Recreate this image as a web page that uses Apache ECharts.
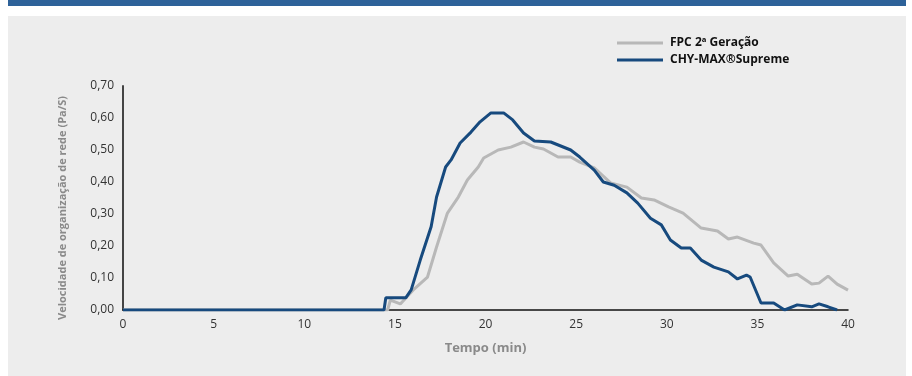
<!DOCTYPE html>
<html>
<head>
<meta charset="utf-8">
<script src="https://cdn.jsdelivr.net/npm/echarts@6/dist/echarts.min.js"></script>
<style>
  html, body { margin: 0; padding: 0; background: #fff; }
  #chart { width: 912px; height: 376px; }
</style>
</head>
<body>
<div id="chart"></div>
<script type="text/javascript">
// tempo (min) e velocidade (Pa/S)
var fpcTime  = [0, 14.6, 14.75, 15.3, 16.0, 16.8, 17.3, 17.9, 18.5, 19.0, 19.6, 19.9, 20.7, 21.4, 22.1, 22.7, 23.2, 24.0, 24.7, 25.2, 26.0, 26.9, 27.8, 28.6, 29.3, 30.1, 30.9, 31.9, 32.8, 33.4, 33.9, 34.8, 35.2, 35.9, 36.7, 37.2, 38.0, 38.4, 38.9, 39.4, 40.0];
var fpcValue = [0, 0, 0.031, 0.019, 0.062, 0.103, 0.197, 0.303, 0.353, 0.406, 0.447, 0.475, 0.500, 0.509, 0.525, 0.509, 0.503, 0.478, 0.478, 0.462, 0.444, 0.397, 0.384, 0.350, 0.344, 0.322, 0.303, 0.256, 0.247, 0.222, 0.228, 0.209, 0.203, 0.147, 0.106, 0.112, 0.081, 0.084, 0.106, 0.081, 0.062];

var chyTime  = [0, 14.4, 14.5, 15.6, 15.9, 16.4, 17.0, 17.3, 17.8, 18.1, 18.6, 19.2, 19.7, 20.3, 21.0, 21.5, 22.1, 22.7, 23.6, 24.7, 25.2, 26.0, 26.5, 27.1, 27.8, 28.4, 29.1, 29.7, 30.2, 30.8, 31.3, 31.9, 32.6, 33.4, 33.9, 34.4, 34.6, 35.2, 35.9, 36.5, 37.2, 38.0, 38.4, 38.9, 39.4];
var chyValue = [0, 0, 0.038, 0.038, 0.063, 0.156, 0.260, 0.353, 0.447, 0.469, 0.522, 0.556, 0.588, 0.616, 0.616, 0.594, 0.553, 0.528, 0.525, 0.500, 0.478, 0.437, 0.400, 0.390, 0.366, 0.334, 0.287, 0.266, 0.219, 0.194, 0.194, 0.156, 0.134, 0.119, 0.097, 0.109, 0.103, 0.022, 0.022, 0, 0.016, 0.010, 0.019, 0.010, 0];

var seriesNames = ['FPC 2ª Geração', 'CHY-MAX®Supreme'];

function pairs(t, v) {
	var out = [];
	for (var i = 0; i < t.length; i++) out.push([t[i], v[i]]);
	return out;
}

var myChart = echarts.init(document.getElementById('chart'));
var font = '"Open Sans", "Noto Sans", sans-serif';

var option = {
	animation: false,
	backgroundColor: '#fff',
	graphic: [
		{ type: 'rect', z: -10, shape: { x: 8, y: 0, width: 898, height: 6 }, style: { fill: '#2e6299' } },
		{ type: 'rect', z: -10, shape: { x: 8, y: 16, width: 898, height: 360 }, style: { fill: '#ededed' } }
	],
	legend: {
		orient: 'vertical',
		left: 612,
		top: 32,
		itemWidth: 46,
		itemHeight: 3,
		itemGap: 5,
		icon: 'rect',
		data: seriesNames,
		textStyle: { fontFamily: font, fontSize: 12, fontWeight: 'bold', color: '#111', padding: [0, 0, 0, 2] }
	},
	grid: { left: 123, right: 64, top: 86, height: 224 },
	xAxis: {
		type: 'value',
		min: 0,
		max: 40,
		interval: 5,
		offset: 2,
		name: 'Tempo (min)',
		nameLocation: 'middle',
		nameGap: 30,
		nameTextStyle: { fontFamily: font, fontSize: 13, fontWeight: 'bold', color: '#8a8a8a' },
		axisLine: { lineStyle: { color: '#111', width: 1.5 } },
		axisTick: { show: false },
		splitLine: { show: false },
		axisLabel: { margin: 7, fontFamily: font, fontSize: 12, color: '#333' }
	},
	yAxis: {
		type: 'value',
		min: 0,
		max: 0.7,
		interval: 0.1,
		name: 'Velocidade de organização de rede (Pa/S)',
		nameLocation: 'middle',
		nameGap: 55,
		nameTextStyle: { fontFamily: font, fontSize: 11, fontWeight: 'bold', color: '#8a8a8a', padding: [0, 20, 0, 0] },
		axisLine: { show: true, lineStyle: { color: '#444', width: 2 } },
		axisTick: { show: false },
		splitLine: { show: false },
		axisLabel: {
			margin: 9,
			fontFamily: font, fontSize: 12, color: '#333',
			formatter: function (v) { return v.toFixed(2).replace('.', ','); }
		}
	},
	series: [{
		name: seriesNames[0],
		type: 'line',
		data: pairs(fpcTime, fpcValue),
		showSymbol: false,
		color: '#b8b8b8',
		lineStyle: { width: 3, color: '#b8b8b8' },
		z: 2
	}, {
		name: seriesNames[1],
		type: 'line',
		data: pairs(chyTime, chyValue),
		showSymbol: false,
		color: '#174a7e',
		lineStyle: { width: 3, color: '#174a7e' },
		z: 3
	}]
};
myChart.setOption(option);
</script>
</body>
</html>
